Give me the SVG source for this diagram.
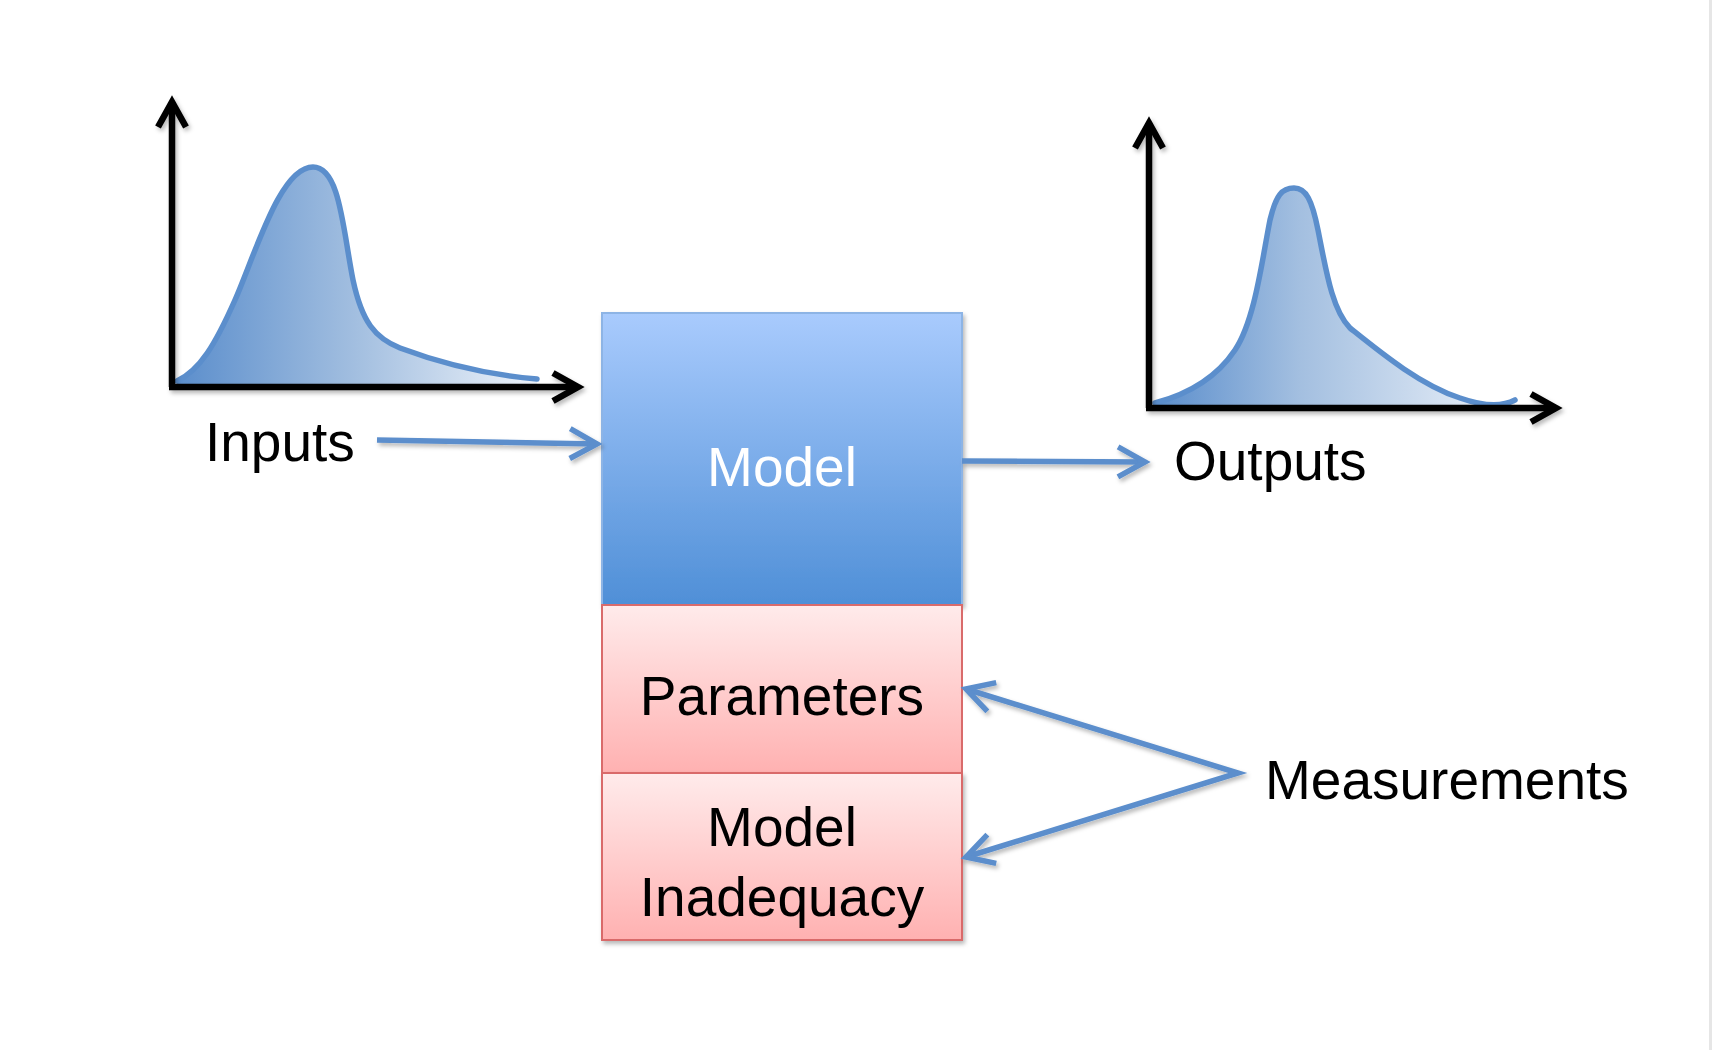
<svg xmlns="http://www.w3.org/2000/svg" width="1712" height="1050" viewBox="0 0 1712 1050">
<style>
  .lbl { font-family: "Liberation Sans", Arial, sans-serif; font-size: 55px; fill: #000; }
  .axis { fill: none; stroke: #000; stroke-width: 6.5; stroke-linejoin: miter; }
  .curve { stroke: #5B8ECC; stroke-width: 5.5; stroke-linejoin: round; stroke-linecap: round; }
  .conn { fill: none; stroke: #5B8ECC; stroke-width: 5.5; stroke-linejoin: miter; }
</style>
<defs>
  <filter id="sh" x="-10%" y="-10%" width="120%" height="130%">
    <feDropShadow dx="2" dy="3" stdDeviation="2" flood-color="#000" flood-opacity="0.28"/>
  </filter>
  <linearGradient id="gBlue" x1="0" y1="0" x2="0" y2="1">
    <stop offset="0" stop-color="#A9CBFD"/>
    <stop offset="1" stop-color="#4F8FD7"/>
  </linearGradient>
  <linearGradient id="gPink" x1="0" y1="0" x2="0" y2="1">
    <stop offset="0" stop-color="#FFEBEB"/>
    <stop offset="1" stop-color="#FFB1B1"/>
  </linearGradient>
  <linearGradient id="gIn" gradientUnits="userSpaceOnUse" x1="177" y1="0" x2="537" y2="0">
    <stop offset="0" stop-color="#5B8ECC"/>
    <stop offset="0.5" stop-color="#A3BFE0"/>
    <stop offset="1" stop-color="#EEF3FA"/>
  </linearGradient>
  <linearGradient id="gOut" gradientUnits="userSpaceOnUse" x1="1155" y1="0" x2="1515" y2="0">
    <stop offset="0" stop-color="#5B8ECC"/>
    <stop offset="0.4" stop-color="#A3BFE0"/>
    <stop offset="1" stop-color="#EEF3FA"/>
  </linearGradient>
  <marker id="ah" markerUnits="userSpaceOnUse" markerWidth="40" markerHeight="40" viewBox="-32 -20 40 40" refX="0" refY="0" orient="auto-start-reverse">
    <path d="M-27,-15 L0,0 L-27,15" fill="none" stroke="#5B8ECC" stroke-width="5.5"/>
  </marker>
  <marker id="ak" markerUnits="userSpaceOnUse" markerWidth="40" markerHeight="40" viewBox="-32 -20 40 40" refX="0" refY="0" orient="auto">
    <path d="M-25,-14 L0,0 L-25,14" fill="none" stroke="#000" stroke-width="6.5"/>
  </marker>
</defs>
<rect x="0" y="0" width="1712" height="1050" fill="#FFFFFF"/>
<rect x="1709" y="0" width="3" height="1050" fill="#E6E6E6"/>

<g id="input-chart">
  <path fill="url(#gIn)" stroke="none" d="M177,381 C200,370 215,345 235,300 C255,255 280,167 313,167 C340,167 343,230 353,280 C362,322 375,338 400,348 C440,363 490,375 537,379 L537,384 L177,384 Z"/>
  <path class="curve" fill="none" d="M177,381 C200,370 215,345 235,300 C255,255 280,167 313,167 C340,167 343,230 353,280 C362,322 375,338 400,348 C440,363 490,375 537,379"/>
  <g filter="url(#sh)">
    <path class="axis" d="M172,387 L172,102" marker-end="url(#ak)"/>
    <path class="axis" d="M169,387 L578,387" marker-end="url(#ak)"/>
  </g>
</g>

<g id="output-chart">
  <path fill="url(#gOut)" stroke="none" d="M1155,403 C1185,395 1215,380 1235,350 C1255,320 1262,260 1270,220 C1276,195 1282,188 1294,188 C1306,188 1312,200 1318,230 C1326,270 1332,310 1350,328 C1380,352 1420,385 1460,398 C1480,405 1500,408 1515,400 L1515,406 L1155,406 Z"/>
  <path class="curve" fill="none" d="M1155,403 C1185,395 1215,380 1235,350 C1255,320 1262,260 1270,220 C1276,195 1282,188 1294,188 C1306,188 1312,200 1318,230 C1326,270 1332,310 1350,328 C1380,352 1420,385 1460,398 C1480,405 1500,408 1515,400"/>
  <g filter="url(#sh)">
    <path class="axis" d="M1149,408 L1149,123" marker-end="url(#ak)"/>
    <path class="axis" d="M1146,408 L1556,408" marker-end="url(#ak)"/>
  </g>
</g>

<g id="model">
  <rect x="602" y="313" width="360" height="292" fill="url(#gBlue)" stroke="#8DB4E5" stroke-width="2" filter="url(#sh)"/>
  <text x="782" y="486" text-anchor="middle" class="lbl" style="fill:#FFFFFF">Model</text>
</g>

<g id="parameters">
  <rect x="602" y="605" width="360" height="168" fill="url(#gPink)" stroke="#D96B6B" stroke-width="2"/>
  <text x="782" y="715" text-anchor="middle" class="lbl">Parameters</text>
</g>

<g id="inadequacy">
  <rect x="602" y="773" width="360" height="167" fill="url(#gPink)" stroke="#D96B6B" stroke-width="2" filter="url(#sh)"/>
  <text x="782" y="846" text-anchor="middle" class="lbl">Model</text>
  <text x="782" y="916" text-anchor="middle" class="lbl">Inadequacy</text>
</g>

<g id="inputs-label"><text x="205" y="461" class="lbl">Inputs</text></g>
<g id="outputs-label"><text x="1174" y="480" class="lbl">Outputs</text></g>
<g id="measurements-label"><text x="1265" y="799" class="lbl">Measurements</text></g>

<g id="connectors" filter="url(#sh)">
  <path class="conn" d="M377,440 L597,444" marker-end="url(#ah)"/>
  <path class="conn" d="M962,461 L1145,462" marker-end="url(#ah)"/>
  <path class="conn" d="M966,689 L1238,773 L966,857" marker-start="url(#ah)" marker-end="url(#ah)"/>
</g>
</svg>
